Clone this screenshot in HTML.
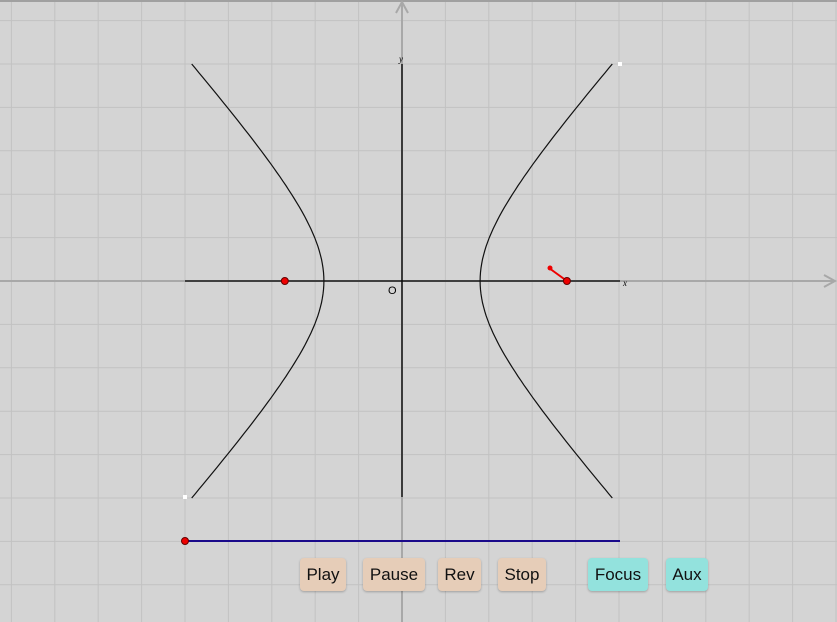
<!DOCTYPE html>
<html><head><meta charset="utf-8"><style>
body{margin:0;width:837px;height:622px;overflow:hidden;background:#d4d4d4;font-family:"Liberation Sans",sans-serif}
.btn{position:absolute;top:558px;height:33px;border-radius:4px;font-size:17px;line-height:33px;text-align:center;color:#111;box-shadow:0 1px 2px rgba(0,0,0,.25)}
.t{background:#e6cdb8}.c{background:#93e2dd}
</style></head><body>
<svg id="s" width="837" height="622" style="position:absolute;left:0;top:0"></svg>
<div class="btn t" style="left:300px;width:46px">Play</div>
<div class="btn t" style="left:363px;width:62px">Pause</div>
<div class="btn t" style="left:438px;width:43px">Rev</div>
<div class="btn t" style="left:498px;width:48px">Stop</div>
<div class="btn c" style="left:588px;width:60px">Focus</div>
<div class="btn c" style="left:666px;width:42px">Aux</div>
<script>
const semiAxes=[1.8,2.0]; // a, b in grid units
const yRange=[-5,5];
const foci=[-2.7,3.8];
const NS="http://www.w3.org/2000/svg";
const s=document.getElementById('s');
const cx=402,cy=281,u=43.4;
const X=v=>cx+v*u, Y=v=>cy-v*u;
function el(t,a,name){const e=document.createElementNS(NS,t);for(const k in a)e.setAttribute(k,a[k]);


s.appendChild(e);return e;}
for(let i=-10;i<=10;i++){const x=X(i);if(x>=0&&x<=837)el('line',{x1:x,y1:0,x2:x,y2:622,stroke:'#c2c2c2','stroke-width':1},'grid-v');}
for(let i=-8;i<=8;i++){const y=Y(i);if(y>=0&&y<=622)el('line',{x1:0,y1:y,x2:837,y2:y,stroke:'#c2c2c2','stroke-width':1},'grid-h');}
el('line',{x1:0,y1:1,x2:837,y2:1,stroke:'#a0a0a0','stroke-width':2},'top-border');
el('line',{x1:0,y1:cy,x2:834,y2:cy,stroke:'#a8a8a8','stroke-width':2},'x-axis-bg');
el('path',{d:`M824 ${cy-6}L835 ${cy}L824 ${cy+6}`,fill:'none',stroke:'#a8a8a8','stroke-width':2},'x-arrow');
el('line',{x1:cx,y1:3,x2:cx,y2:622,stroke:'#a8a8a8','stroke-width':2},'y-axis-bg');
el('path',{d:`M${cx-6} 13L${cx} 2L${cx+6} 13`,fill:'none',stroke:'#a8a8a8','stroke-width':2},'y-arrow');
el('line',{x1:185,y1:cy,x2:620,y2:cy,stroke:'#000','stroke-width':1.3},'x-axis');
el('line',{x1:cx,y1:64,x2:cx,y2:497,stroke:'#000','stroke-width':1.3},'y-axis');
const a=semiAxes[0],b=semiAxes[1];
const ymax=(Y(yRange[0])-cy)/u*1; 
[1,-1].forEach(sg=>{let d='';for(let k=0;k<=100;k++){const yy=-5+k*0.1;const xx=sg*a*Math.sqrt(1+yy*yy/(b*b)*(a*a*0)+ (yy*yy)/(b*b));d+=(k?'L':'M')+X(xx).toFixed(1)+' '+Y(yy).toFixed(1);}
el('path',{d,fill:'none',stroke:'#111','stroke-width':1.2},'hyperbola-branch');});
el('text',{x:399,y:62,'font-size':9,'font-style':'italic','font-family':'Liberation Serif'},'y-label').textContent='y';
el('text',{x:623,y:286,'font-size':9,'font-style':'italic','font-family':'Liberation Serif'},'x-label').textContent='x';
el('text',{x:388,y:294,'font-size':11},'origin-label').textContent='O';
el('rect',{x:618,y:62,width:4,height:4,fill:'#fff'},'corner-point');
el('rect',{x:183,y:495,width:4,height:4,fill:'#fff'},'corner-point');
el('line',{x1:185,y1:541,x2:620,y2:541,stroke:'#1a0a8a','stroke-width':2},'slider-line');
el('circle',{cx:185,cy:541,r:3.5,fill:'#e00',stroke:'#600'},'slider-point');
el('circle',{cx:X(foci[0]),cy:cy,r:3.5,fill:'#e00',stroke:'#600'},'focus-left');
el('line',{x1:X(foci[1]),y1:cy,x2:549,y2:268,stroke:'#e00','stroke-width':2},'vector');
el('circle',{cx:550,cy:268,r:2.5,fill:'#e00'},'vector-tip');
el('circle',{cx:X(foci[1]),cy:cy,r:3.5,fill:'#e00',stroke:'#600'},'moving-point');
</script>
</body></html>
